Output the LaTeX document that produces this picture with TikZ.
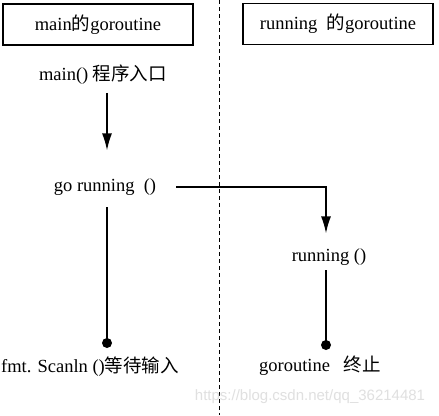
\documentclass[tikz,border=0pt]{standalone}
\usepackage{fontspec}
\setmainfont{Liberation Serif}
\newfontfamily\cjk{Noto Sans CJK SC}
\newfontfamily\wmfont{Liberation Sans}
\usetikzlibrary{arrows.meta,calc}
\tikzset{
  lbl/.style={inner sep=0pt, font=\fontsize{18.5}{20}\selectfont},
  titlebox/.style={draw, line width=1.1pt, minimum width=190pt, minimum height=41pt, inner sep=0pt, font=\fontsize{18.5}{20}\selectfont},
  arr/.style={line width=1.5pt, -{Latex[length=17pt,width=10pt]}},
  plain/.style={line width=1.5pt},
  enddot/.style={circle, fill, inner sep=0pt, minimum size=10pt},
  sep/.style={line width=0.9pt, dash pattern=on 4pt off 3pt}
}
\begin{document}
\begin{tikzpicture}[x=1pt,y=-1pt]
\useasboundingbox[fill=white] (0,0) rectangle (439,415);
% separator
\coordinate (septop) at (219,0);
\coordinate (sepbot) at (219,415);
\draw[sep] (septop) -- (sepbot);
% title boxes
\node[titlebox] (b1) at (98,24.5) {main{\cjk 的}goroutine};
\node[titlebox] (b2) at (338,24) {running~~{\cjk 的}goroutine};
% labels
\node[lbl] (main) at (103,75) {main() {\cjk 程序入口}};
\node[lbl] (gorun) at (105,187) {go running~~()};
\node[lbl] (run) at (329,257) {running ()};
\node[lbl] (scan) at (90,367) {fmt. Scanln (){\cjk 等待输入}};
\node[lbl] (end) at (320,366) {goroutine~~~{\cjk 终止}};
% end dots
\node[enddot] (d1) at (107,343) {};
\node[enddot] (d2) at (326,345) {};
% connectors
\draw[arr] ([yshift=-8pt]main.south -| d1.center) -- ([yshift=28pt]gorun.north -| d1.center);
\draw[arr] ([xshift=20pt]gorun.east) -| ([yshift=15pt]run.north -| d2.center);
\draw[plain] ([yshift=-11.5pt]gorun.south -| d1.center) -- (d1.center);
\draw[plain] ([yshift=-4.5pt]run.south -| d2.center) -- (d2.center);
% watermark
\node[inner sep=0pt, text=black!12, font=\wmfont\fontsize{15}{17}\selectfont] (wm) at (310,397) {https://blog.csdn.net/qq\_36214481};
\end{tikzpicture}
\end{document}
